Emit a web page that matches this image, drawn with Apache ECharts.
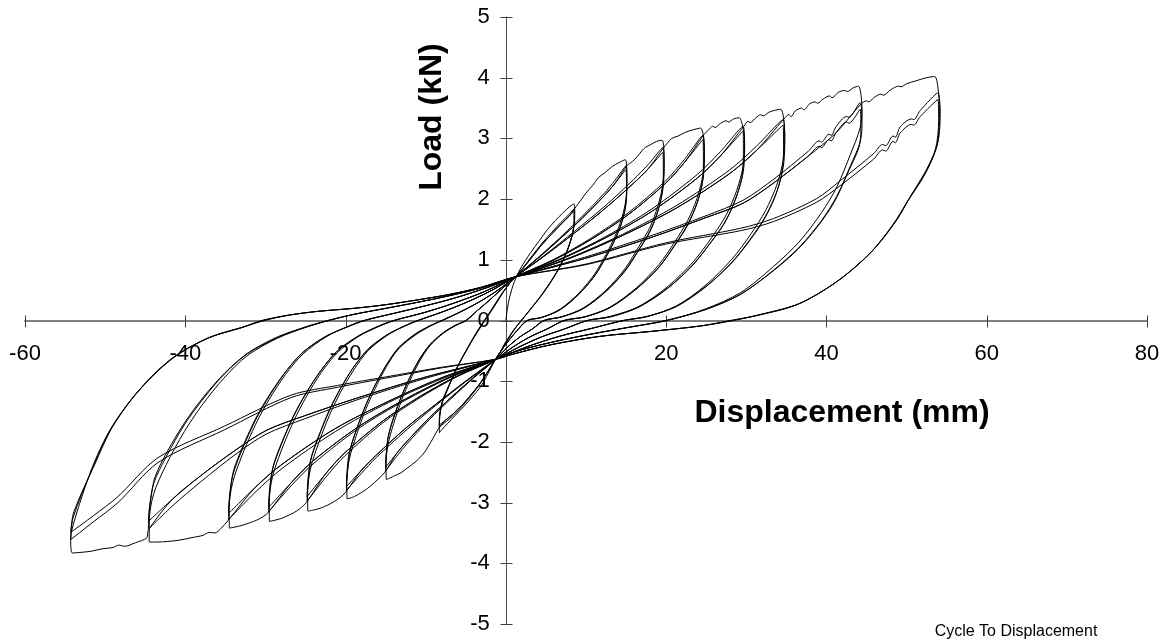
<!DOCTYPE html>
<html>
<head>
<meta charset="utf-8">
<script src="https://cdn.jsdelivr.net/npm/echarts@6/dist/echarts.min.js"></script>
<style>
  html, body { margin: 0; padding: 0; background: #fff; }
  #chart { width: 1175px; height: 644px; }
</style>
</head>
<body>
<div id="chart"></div>
<script>
// Axis ticks (mm and kN)
const xTicks = [-60, -40, -20, 0, 20, 40, 60, 80];
const yTicks = [-5, -4, -3, -2, -1, 0, 1, 2, 3, 4, 5];

// Load path, one array per displacement stage (three cycles each), [displacement mm, load kN]
const stage1 = [
  [0,0],[0.3,0.28],[0.9,0.58],[1.8,0.85],[3.1,1.12],[4.2,1.32],[5.2,1.5],[6.2,1.65],[7.1,1.77],[8.0,1.88],[8.5,1.92],
  [8.6,1.72],[8.4,1.48],[7.8,1.2],[6.9,0.93],[5.8,0.68],[4.6,0.45],[3.4,0.24],[2.3,0.06],[1.2,-0.12],[0.1,-0.35],[-0.7,-0.52],[-1.3,-0.64],
  [-2.2,-0.87],[-3.1,-1.08],[-4.2,-1.26],[-5.2,-1.41],[-6.3,-1.56],[-7.3,-1.7],[-8.0,-1.8],[-8.3,-1.85],
  [-8.3,-1.62],[-8.0,-1.38],[-7.3,-1.15],[-6.4,-0.86],[-5.4,-0.6],[-4.4,-0.36],[-3.5,-0.16],[-2.5,0.04],[-1.5,0.24],[-0.4,0.46],[0.4,0.6],[1.2,0.72],
  [2.2,0.88],[3.3,1.07],[4.5,1.27],[5.7,1.45],[6.9,1.62],[7.9,1.75],[8.5,1.84],
  [8.55,1.66],[8.3,1.42],[7.7,1.16],[6.8,0.9],[5.7,0.65],[4.5,0.42],[3.3,0.22],[2.2,0.04],[1.1,-0.14],[0.0,-0.36],[-0.7,-0.52],[-1.3,-0.64],
  [-2.3,-0.86],[-3.3,-1.06],[-4.4,-1.25],[-5.5,-1.42],[-6.6,-1.57],[-7.6,-1.68],[-8.3,-1.76],
  [-8.25,-1.56],[-7.9,-1.33],[-7.2,-1.1],[-6.3,-0.83],[-5.3,-0.58],[-4.3,-0.35],[-3.4,-0.15],[-2.4,0.05],[-1.4,0.25],[-0.4,0.46],[0.4,0.6],[1.2,0.72],
  [2.2,0.87],[3.3,1.05],[4.5,1.25],[5.7,1.42],[6.9,1.59],[7.9,1.72],[8.5,1.8],
  [8.5,1.63],[8.25,1.4],[7.6,1.14],[6.7,0.88],[5.6,0.64],[4.4,0.41],[3.2,0.21],[2.1,0.03],[1.0,-0.15],[-0.1,-0.37],[-0.7,-0.52],[-1.3,-0.64],
  [-2.3,-0.85],[-3.3,-1.05],[-4.4,-1.23],[-5.5,-1.4],[-6.6,-1.54],[-7.6,-1.65],[-8.3,-1.72],
  [-8.2,-1.53],[-7.85,-1.3],[-7.1,-1.07],[-6.2,-0.81],[-5.2,-0.56],[-4.2,-0.33],[-3.3,-0.14],[-2.3,0.06],[-1.3,0.26],[-0.3,0.47],[0.4,0.6],[1.2,0.72]
];

const stage2 = [
  [1.2,0.72],
  [2.2,0.87],[3.3,1.05],[4.5,1.25],[5.7,1.42],[6.9,1.59],[7.9,1.72],[8.6,1.85],[9.3,1.97],[10,2.1],[10.8,2.22],[11.6,2.36],[12.4,2.44],[13.3,2.54],[14.1,2.6],[14.9,2.65],
  [15.1,2.33],[15.0,2.01],[14.5,1.7],[13.6,1.38],[12.5,1.09],[11.1,0.77],[9.1,0.45],[6.8,0.19],[4.5,0.05],[2.7,0],
  [1.5,-0.15],[0.3,-0.34],[-0.6,-0.5],[-1.3,-0.64],
  [-2.3,-0.85],[-3.3,-1.05],[-4.4,-1.23],[-5.5,-1.4],[-6.6,-1.54],[-7.6,-1.65],[-8.4,-1.78],[-9.3,-1.99],[-10.2,-2.18],[-11.2,-2.32],[-12.3,-2.43],[-13.1,-2.51],[-13.9,-2.56],[-14.9,-2.62],
  [-14.95,-2.36],[-14.7,-2.04],[-14,-1.7],[-13,-1.31],[-12,-1.0],[-10.8,-0.68],[-9.5,-0.42],[-7.8,-0.21],[-6.2,-0.08],[-5,0],
  [-3.5,0.17],[-2,0.34],[-0.5,0.52],[1.2,0.72],
  [3.96,1.03],[6.72,1.36],[9.48,1.71],[12.24,2.09],[13.62,2.31],[15,2.55],
  [15.1,2.24],[15.0,1.94],[14.5,1.63],[13.6,1.33],[12.5,1.05],[11.1,0.74],[9.1,0.43],[6.8,0.18],[4.5,0.05],[2.7,0],
  [1.5,-0.15],[0.3,-0.34],[-0.6,-0.5],[-1.3,-0.64],
  [-4.04,-0.95],[-6.78,-1.28],[-9.52,-1.63],[-12.26,-2.02],[-13.63,-2.24],[-15,-2.48],
  [-14.95,-2.23],[-14.7,-1.93],[-14,-1.61],[-13,-1.24],[-12,-0.94],[-10.8,-0.64],[-9.5,-0.4],[-7.8,-0.2],[-6.2,-0.07],[-5,0],
  [-3.5,0.17],[-2,0.34],[-0.5,0.52],[1.2,0.72],
  [3.96,1.02],[6.72,1.34],[9.48,1.68],[12.24,2.05],[13.62,2.26],[15,2.49],
  [15.05,2.19],[14.95,1.89],[14.4,1.59],[13.5,1.3],[12.4,1.02],[11.0,0.72],[9.0,0.42],[6.7,0.17],[4.4,0.05],[2.6,0],
  [1.5,-0.15],[0.3,-0.34],[-0.6,-0.5],[-1.3,-0.64],
  [-4.04,-0.94],[-6.78,-1.26],[-9.52,-1.6],[-12.26,-1.98],[-13.63,-2.19],[-15,-2.42],
  [-14.9,-2.18],[-14.65,-1.89],[-13.95,-1.57],[-12.9,-1.21],[-11.9,-0.92],[-10.7,-0.63],[-9.4,-0.39],[-7.7,-0.19],[-6.1,-0.07],[-4.9,0],
  [-3.5,0.17],[-2,0.34],[-0.5,0.52],[1.2,0.72]
];

const stage3 = [
  [1.2,0.72],
  [3.96,1.02],[6.72,1.34],[9.48,1.68],[12.24,2.05],[13.62,2.26],[15.1,2.55],[15.8,2.62],[16.4,2.7],[17.0,2.8],[17.4,2.85],[18.1,2.9],[18.8,2.95],[19.5,2.97],
  [19.75,2.61],[19.6,2.26],[19.0,1.9],[18.0,1.54],[16.6,1.22],[14.9,0.86],[12.5,0.5],[9.7,0.21],[7.0,0.06],[4.8,0],
  [3.3,-0.14],[1.75,-0.27],[0.2,-0.44],[-1.3,-0.64],
  [-4.04,-0.94],[-6.78,-1.26],[-9.52,-1.6],[-12.26,-1.98],[-13.63,-2.19],[-15.1,-2.5],[-16.4,-2.67],[-17.3,-2.77],[-18.1,-2.84],[-18.9,-2.9],[-19.8,-2.94],
  [-19.84,-2.65],[-19.54,-2.29],[-18.7,-1.91],[-17.5,-1.47],[-16.3,-1.12],[-14.9,-0.76],[-13.4,-0.47],[-11.3,-0.24],[-9.4,-0.09],[-8,0],
  [-5.7,0.14],[-3.4,0.3],[-1.1,0.49],[1.2,0.72],
  [4.88,1.08],[8.56,1.47],[12.24,1.87],[15.92,2.32],[17.76,2.57],[19.6,2.85],
  [19.75,2.51],[19.6,2.17],[19.0,1.82],[18.0,1.48],[16.6,1.17],[14.9,0.83],[12.5,0.48],[9.7,0.2],[7.0,0.06],[4.8,0],
  [3.3,-0.14],[1.75,-0.27],[0.2,-0.44],[-1.3,-0.64],
  [-5.02,-1.01],[-8.74,-1.4],[-12.46,-1.81],[-16.18,-2.26],[-18.04,-2.52],[-19.9,-2.8],
  [-19.84,-2.52],[-19.54,-2.18],[-18.7,-1.82],[-17.5,-1.4],[-16.3,-1.06],[-14.9,-0.73],[-13.4,-0.45],[-11.3,-0.22],[-9.4,-0.08],[-8,0],
  [-5.7,0.14],[-3.4,0.3],[-1.1,0.49],[1.2,0.72],
  [4.88,1.07],[8.56,1.44],[12.24,1.83],[15.92,2.26],[17.76,2.5],[19.6,2.77],
  [19.65,2.44],[19.5,2.1],[18.9,1.77],[17.9,1.44],[16.5,1.14],[14.8,0.8],[12.4,0.47],[9.6,0.19],[6.9,0.06],[4.7,0],
  [3.3,-0.14],[1.75,-0.27],[0.2,-0.44],[-1.3,-0.64],
  [-5.02,-1.0],[-8.74,-1.38],[-12.46,-1.77],[-16.18,-2.22],[-18.04,-2.47],[-19.9,-2.74],
  [-19.74,-2.47],[-19.44,-2.14],[-18.6,-1.78],[-17.4,-1.37],[-16.2,-1.04],[-14.8,-0.71],[-13.3,-0.44],[-11.2,-0.22],[-9.3,-0.08],[-7.9,0],
  [-5.7,0.14],[-3.4,0.3],[-1.1,0.49],[1.2,0.72]
];

const stage4 = [
  [1.2,0.72],
  [4.88,1.07],[8.56,1.44],[12.24,1.83],[15.92,2.26],[17.76,2.5],[19.7,2.85],[20.2,2.93],[20.7,3.0],[21.5,3.04],[22.4,3.1],[23.3,3.14],[24.3,3.17],
  [24.77,2.79],[24.6,2.41],[23.9,2.03],[22.7,1.65],[21.1,1.3],[19.1,0.92],[16.3,0.54],[13.0,0.22],[9.9,0.06],[7.3,0],
  [5.15,-0.14],[3.0,-0.27],[0.85,-0.44],[-1.3,-0.64],
  [-5.02,-1.0],[-8.74,-1.38],[-12.46,-1.77],[-16.18,-2.22],[-18.04,-2.47],[-20.0,-2.83],[-20.7,-2.92],[-21.4,-2.98],[-22.2,-3.04],[-23.1,-3.09],[-23.9,-3.12],[-24.7,-3.14],
  [-24.73,-2.83],[-24.39,-2.45],[-23.42,-2.04],[-22.04,-1.57],[-20.66,-1.19],[-19.0,-0.82],[-17.21,-0.5],[-14.86,-0.25],[-12.66,-0.09],[-11,0],
  [-7.95,0.14],[-4.9,0.3],[-1.85,0.49],[1.2,0.72],
  [5.88,1.0],[10.56,1.35],[15.24,1.77],[19.92,2.3],[22.26,2.65],[24.6,3.05],
  [24.77,2.68],[24.6,2.32],[23.9,1.95],[22.7,1.59],[21.1,1.25],[19.1,0.88],[16.3,0.52],[13.0,0.21],[9.9,0.06],[7.3,0],
  [5.15,-0.14],[3.0,-0.27],[0.85,-0.44],[-1.3,-0.64],
  [-6.0,-0.92],[-10.7,-1.27],[-15.4,-1.69],[-20.1,-2.23],[-22.45,-2.58],[-24.8,-2.98],
  [-24.73,-2.68],[-24.39,-2.32],[-23.42,-1.94],[-22.04,-1.49],[-20.66,-1.13],[-19.0,-0.77],[-17.21,-0.48],[-14.86,-0.24],[-12.66,-0.09],[-11,0],
  [-7.95,0.14],[-4.9,0.3],[-1.85,0.49],[1.2,0.72],
  [5.88,0.99],[10.56,1.33],[15.24,1.74],[19.92,2.26],[22.26,2.6],[24.6,2.98],
  [24.65,2.62],[24.5,2.26],[23.8,1.91],[22.6,1.55],[21.0,1.22],[19.0,0.86],[16.2,0.51],[12.9,0.21],[9.8,0.06],[7.2,0],
  [5.15,-0.14],[3.0,-0.27],[0.85,-0.44],[-1.3,-0.64],
  [-6.0,-0.91],[-10.7,-1.25],[-15.4,-1.66],[-20.1,-2.18],[-22.45,-2.52],[-24.8,-2.9],
  [-24.63,-2.61],[-24.29,-2.26],[-23.32,-1.89],[-21.94,-1.45],[-20.56,-1.1],[-18.9,-0.75],[-17.11,-0.46],[-14.76,-0.23],[-12.56,-0.09],[-10.9,0],
  [-7.95,0.14],[-4.9,0.3],[-1.85,0.49],[1.2,0.72]
];

const stage5 = [
  [1.2,0.72],
  [5.88,0.99],[10.56,1.33],[15.24,1.74],[19.92,2.26],[22.26,2.6],[24.7,3.06],[25.3,3.14],[25.8,3.2],[26.1,3.18],[26.8,3.25],[27.5,3.29],[27.8,3.27],[28.4,3.32],[29.1,3.34],
  [29.79,2.94],[29.6,2.54],[28.8,2.14],[27.5,1.74],[25.7,1.37],[23.4,0.97],[20.3,0.57],[16.6,0.23],[13.1,0.07],[10.2,0],
  [7.3,-0.14],[4.45,-0.27],[1.6,-0.44],[-1.3,-0.64],
  [-6.0,-0.91],[-10.7,-1.25],[-15.4,-1.66],[-20.1,-2.18],[-22.45,-2.52],[-24.9,-3.0],[-25.7,-3.1],[-26.5,-3.17],[-27.3,-3.22],[-28.0,-3.26],[-28.8,-3.29],[-29.5,-3.31],
  [-29.52,-2.98],[-29.13,-2.58],[-28.04,-2.15],[-26.48,-1.66],[-24.92,-1.26],[-23.05,-0.86],[-21.02,-0.53],[-18.37,-0.26],[-15.87,-0.1],[-14,0],
  [-10.2,0.13],[-6.4,0.29],[-2.6,0.48],[1.2,0.72],
  [6.88,1.02],[12.56,1.39],[18.24,1.84],[23.92,2.41],[26.76,2.78],[29.6,3.2],
  [29.79,2.82],[29.6,2.43],[28.8,2.05],[27.5,1.66],[25.7,1.31],[23.4,0.93],[20.3,0.54],[16.6,0.22],[13.1,0.06],[10.2,0],
  [7.3,-0.14],[4.45,-0.27],[1.6,-0.44],[-1.3,-0.64],
  [-6.96,-0.94],[-12.62,-1.32],[-18.28,-1.77],[-23.94,-2.35],[-26.77,-2.72],[-29.6,-3.15],
  [-29.52,-2.84],[-29.13,-2.46],[-28.04,-2.05],[-26.48,-1.58],[-24.92,-1.2],[-23.05,-0.82],[-21.02,-0.5],[-18.37,-0.25],[-15.87,-0.09],[-14,0],
  [-10.2,0.13],[-6.4,0.29],[-2.6,0.48],[1.2,0.72],
  [6.88,1.01],[12.56,1.37],[18.24,1.8],[23.92,2.35],[26.76,2.71],[29.6,3.12],
  [29.64,2.75],[29.45,2.37],[28.65,2.0],[27.35,1.62],[25.55,1.28],[23.25,0.9],[20.15,0.53],[16.45,0.22],[12.95,0.06],[10.1,0],
  [7.3,-0.14],[4.45,-0.27],[1.6,-0.44],[-1.3,-0.64],
  [-6.96,-0.93],[-12.62,-1.3],[-18.28,-1.74],[-23.94,-2.3],[-26.77,-2.67],[-29.6,-3.08],
  [-29.42,-2.77],[-29.03,-2.4],[-27.94,-2.0],[-26.38,-1.54],[-24.82,-1.17],[-22.95,-0.8],[-20.92,-0.49],[-18.27,-0.25],[-15.77,-0.09],[-13.9,0],
  [-10.2,0.13],[-6.4,0.29],[-2.6,0.48],[1.2,0.72]
];

const stage6 = [
  [1.2,0.72],
  [6.88,1.01],[12.56,1.37],[18.24,1.8],[23.92,2.35],[26.76,2.71],[29.7,3.2],[30.2,3.28],[30.5,3.26],[31.2,3.34],[31.8,3.39],[32.1,3.37],[32.8,3.43],[33.5,3.46],[34.3,3.48],
  [34.8,3.06],[34.6,2.64],[33.8,2.23],[32.4,1.81],[30.6,1.43],[28.2,1.01],[25.0,0.59],[21.3,0.24],[17.7,0.07],[14.7,0],
  [10.7,-0.13],[6.7,-0.26],[2.7,-0.43],[-1.3,-0.64],
  [-6.96,-0.93],[-12.62,-1.3],[-18.28,-1.74],[-23.94,-2.3],[-26.77,-2.67],[-29.7,-3.17],[-30.4,-3.24],[-31.1,-3.29],[-31.9,-3.33],[-32.8,-3.37],[-33.7,-3.4],[-34.5,-3.42],
  [-34.52,-3.08],[-34.09,-2.67],[-32.91,-2.22],[-31.22,-1.71],[-29.53,-1.3],[-27.5,-0.89],[-25.3,-0.55],[-22.43,-0.27],[-19.73,-0.1],[-17.7,0],
  [-13.9,0.12],[-10.1,0.24],[-6.4,0.37],[-2.6,0.53],[1.2,0.72],
  [7.88,1.03],[14.56,1.42],[21.24,1.89],[27.92,2.48],[31.26,2.87],[34.6,3.31],
  [34.8,2.91],[34.6,2.52],[33.8,2.12],[32.4,1.72],[30.6,1.36],[28.2,0.96],[25.0,0.56],[21.3,0.23],[17.7,0.07],[14.7,0],
  [10.7,-0.13],[6.7,-0.26],[2.7,-0.43],[-1.3,-0.64],
  [-7.96,-0.96],[-14.62,-1.35],[-21.28,-1.83],[-27.94,-2.44],[-31.27,-2.83],[-34.6,-3.28],
  [-34.52,-2.95],[-34.09,-2.56],[-32.91,-2.13],[-31.22,-1.64],[-29.53,-1.25],[-27.5,-0.85],[-25.3,-0.52],[-22.43,-0.26],[-19.73,-0.1],[-17.7,0],
  [-13.9,0.12],[-10.1,0.24],[-6.4,0.37],[-2.6,0.53],[1.2,0.72],
  [7.88,1.02],[14.56,1.4],[21.24,1.85],[27.92,2.42],[31.26,2.8],[34.6,3.22],
  [34.65,2.83],[34.45,2.45],[33.65,2.06],[32.25,1.67],[30.45,1.32],[28.05,0.93],[24.85,0.55],[21.15,0.23],[17.55,0.06],[14.6,0],
  [10.7,-0.13],[6.7,-0.26],[2.7,-0.43],[-1.3,-0.64],
  [-7.96,-0.94],[-14.62,-1.33],[-21.28,-1.78],[-27.94,-2.37],[-31.27,-2.75],[-34.6,-3.18],
  [-34.42,-2.86],[-33.99,-2.48],[-32.81,-2.07],[-31.12,-1.59],[-29.43,-1.21],[-27.4,-0.83],[-25.2,-0.51],[-22.33,-0.25],[-19.63,-0.1],[-17.6,0],
  [-13.9,0.12],[-10.1,0.24],[-6.4,0.37],[-2.6,0.53],[1.2,0.72]
];

const stage7 = [
  [1.2,0.72],
  [7.88,1.02],[14.56,1.4],[21.24,1.85],[27.92,2.42],[31.26,2.8],[34.7,3.32],[35.3,3.39],[35.6,3.36],[36.1,3.45],[36.9,3.5],[37.2,3.47],[37.9,3.57],[38.6,3.6],[38.9,3.58],[39.6,3.65],[40.4,3.7],[40.7,3.67],[41.5,3.76],[42.3,3.79],[42.6,3.77],[43.3,3.83],[44.0,3.86],
  [44.44,3.47],[44.2,3.17],[43.0,2.74],[41.3,2.2],[39.4,1.78],[36.7,1.31],[33.4,0.89],[29.3,0.46],[24.9,0.19],[20.1,0],
  [15.0,-0.12],[10.0,-0.24],[5.0,-0.38],[1.0,-0.52],[-1.3,-0.64],
  [-7.96,-0.94],[-14.62,-1.33],[-21.28,-1.78],[-27.94,-2.37],[-31.27,-2.75],[-34.7,-3.3],[-35.5,-3.42],[-36.3,-3.5],[-37.0,-3.49],[-37.8,-3.54],[-39.3,-3.58],[-40.8,-3.62],[-42.2,-3.64],[-43.5,-3.65],[-44.5,-3.65],
  [-44.49,-3.29],[-43.93,-2.85],[-42.36,-2.37],[-40.12,-1.83],[-37.88,-1.39],[-35.19,-0.95],[-32.28,-0.58],[-28.47,-0.29],[-24.89,-0.11],[-22.2,0],
  [-19,0.1],[-15,0.2],[-11,0.3],[-7,0.41],[-3,0.54],[1.2,0.72],
  [9.8,1.04],[18.4,1.41],[24.85,1.72],[29.58,1.98],[33.45,2.33],[37.75,2.79],[39.1,2.96],[39.4,2.94],[40.3,3.07],[40.6,3.05],[41.19,3.19],[42.5,3.36],[42.8,3.35],[44.2,3.59],
  [44.44,3.23],[44.2,2.94],[43.0,2.55],[41.3,2.05],[39.4,1.65],[36.7,1.22],[33.4,0.83],[29.3,0.43],[24.9,0.18],[20.1,0],
  [15.0,-0.12],[10.0,-0.24],[5.0,-0.38],[1.0,-0.52],[-1.3,-0.64],
  [-9.96,-0.95],[-18.62,-1.31],[-25.12,-1.62],[-29.88,-1.87],[-33.78,-2.21],[-38.1,-2.66],[-41.57,-3.05],[-44.6,-3.44],
  [-44.49,-3.1],[-43.93,-2.68],[-42.36,-2.24],[-40.12,-1.72],[-37.88,-1.31],[-35.19,-0.89],[-32.28,-0.55],[-28.47,-0.28],[-24.89,-0.1],[-22.2,0],
  [-19,0.1],[-15,0.2],[-11,0.3],[-7,0.41],[-3,0.54],[1.2,0.72],
  [9.8,1.02],[18.4,1.38],[24.85,1.69],[29.58,1.93],[33.45,2.27],[37.75,2.71],[39.1,2.87],[39.4,2.85],[40.3,2.98],[40.6,2.96],[41.19,3.09],[42.5,3.27],[42.8,3.25],[44.2,3.48],
  [44.3,3.13],[44.05,2.85],[42.8,2.47],[41.1,1.98],[39.2,1.6],[36.5,1.18],[33.2,0.8],[29.1,0.42],[24.7,0.17],[19.9,0],
  [15.0,-0.12],[10.0,-0.24],[5.0,-0.38],[1.0,-0.52],[-1.3,-0.64],
  [-9.96,-0.93],[-18.62,-1.28],[-25.12,-1.57],[-29.88,-1.81],[-33.78,-2.14],[-38.1,-2.56],[-41.57,-2.94],[-44.6,-3.31],
  [-44.34,-2.98],[-43.78,-2.58],[-42.21,-2.15],[-39.97,-1.66],[-37.73,-1.26],[-35.04,-0.86],[-32.13,-0.53],[-28.32,-0.26],[-24.74,-0.1],[-22.05,0],
  [-19,0.1],[-15,0.2],[-11,0.3],[-7,0.41],[-3,0.54],[1.2,0.72]
];

const stage8 = [
  [1.2,0.72],
  [9.8,1.02],[18.4,1.38],[24.85,1.69],[29.58,1.93],[33.45,2.27],[37.75,2.71],[41.19,3.09],[44.2,3.55],[45.0,3.62],[45.3,3.6],[45.9,3.67],[46.8,3.73],[47.1,3.71],[48.0,3.8],[49.0,3.86],[49.3,3.85],[50.0,3.9],[51.2,3.95],[52.5,4.0],[53.5,4.02],
  [54.0,3.75],[54.2,3.45],[53.9,2.93],[52.5,2.49],[50.5,2.05],[48.8,1.66],[45.9,1.17],[41.7,0.68],[36.8,0.29],[31.8,0.1],[28.4,0],
  [24.3,-0.09],[18.1,-0.18],[11.8,-0.26],[5.6,-0.4],[1.0,-0.55],[-1.3,-0.64],
  [-9.96,-0.93],[-18.62,-1.28],[-25.12,-1.57],[-29.88,-1.81],[-33.78,-2.14],[-38.1,-2.56],[-41.57,-2.94],[-44.6,-3.45],[-44.8,-3.58],[-46.2,-3.66],[-47.6,-3.72],[-48.3,-3.7],[-49.0,-3.74],[-50.3,-3.76],[-51.7,-3.8],[-53.0,-3.82],[-54.1,-3.83],
  [-54.3,-3.6],[-53.8,-3.28],[-51.7,-2.45],[-49.6,-1.85],[-47.1,-1.36],[-44.2,-0.92],[-41.3,-0.59],[-37.2,-0.29],[-33,-0.12],[-30.5,0],
  [-27,0.09],[-23.5,0.15],[-19,0.2],[-15,0.26],[-11,0.34],[-7,0.43],[-3,0.55],[1.2,0.72],
  [10,0.93],[20,1.28],[29.3,1.52],[33.4,1.68],[38.8,2.01],[41.7,2.3],[45.9,2.75],[47.0,2.9],[47.4,2.88],[48.3,3.04],[48.6,3.02],[49.2,3.19],[50.6,3.32],[50.9,3.31],[51.7,3.46],[53.9,3.75],
  [54.1,3.4],[53.8,2.88],[52.4,2.44],[50.3,2.0],[48.5,1.61],[45.6,1.13],[41.4,0.65],[36.5,0.27],[31.5,0.09],[28.2,0],
  [24.3,-0.09],[18.1,-0.18],[11.8,-0.26],[5.6,-0.4],[1.0,-0.55],[-1.3,-0.64],
  [-8,-0.78],[-15,-0.95],[-21,-1.1],[-26.8,-1.27],[-35.1,-1.8],[-43.4,-2.34],[-48.4,-3.0],[-51.5,-3.32],[-54.3,-3.61],
  [-54.0,-3.25],[-51.5,-2.41],[-49.4,-1.81],[-46.9,-1.33],[-44.0,-0.9],[-41.1,-0.57],[-37.0,-0.28],[-32.8,-0.11],[-30.3,0],
  [-27,0.09],[-23.5,0.15],[-19,0.2],[-15,0.26],[-11,0.34],[-7,0.43],[-3,0.55],[1.2,0.72],
  [10,0.92],[20,1.26],[29.3,1.48],[33.4,1.63],[38.8,1.95],[41.7,2.22],[45.9,2.66],[47.0,2.81],[47.4,2.79],[48.3,2.95],[48.6,2.93],[49.2,3.09],[50.6,3.23],[50.9,3.22],[51.7,3.36],[53.9,3.64],
  [54.0,3.3],[53.6,2.82],[52.2,2.39],[50.1,1.96],[48.3,1.58],[45.4,1.1],[41.2,0.63],[36.3,0.26],[31.3,0.08],[28.0,0],
  [24.3,-0.09],[18.1,-0.18],[11.8,-0.26],[5.6,-0.4],[1.0,-0.55],[-1.3,-0.64],
  [-8,-0.77],[-15,-0.93],[-21,-1.07],[-26.8,-1.23],[-35.1,-1.74],[-43.4,-2.26],[-48.4,-2.9],[-51.5,-3.22],[-54.3,-3.49],
  [-53.9,-3.15],[-51.3,-2.37],[-49.2,-1.78],[-46.7,-1.3],[-43.8,-0.88],[-40.9,-0.56],[-36.8,-0.27],[-32.6,-0.1],[-30.1,0],
  [-27,0.09],[-23.5,0.15],[-19,0.2],[-15,0.26],[-11,0.34],[-7,0.43],[-3,0.55],[1.2,0.72]
];

const stages = [stage1, stage2, stage3, stage4, stage5, stage6, stage7, stage8];

const FONT = '"Liberation Sans", Arial, sans-serif';
const chart = echarts.init(document.getElementById('chart'), null, { renderer: 'canvas' });

const xMin = xTicks[0], xMax = xTicks[xTicks.length - 1], xStep = xTicks[1] - xTicks[0];
const yMin = yTicks[0], yMax = yTicks[yTicks.length - 1], yStep = yTicks[1] - yTicks[0];

// Tick marks crossing each axis line, plus their labels; placed through the axis scales.
const axisMarks = xTicks.map(v => [v, 0, 0]).concat(yTicks.map(v => [0, v, 1]));
const TICK = 6;
function renderAxisMark(params, api) {
  const dim = api.value(2);
  const p = api.coord([api.value(0), api.value(1)]);
  const px = Math.round(p[0]) + 0.5, py = Math.round(p[1]) + 0.5;
  const children = [];
  if (dim === 0) {
    const v = api.value(0);
    children.push({ type: 'line', shape: { x1: px, y1: py - TICK, x2: px, y2: py + TICK },
      style: { stroke: '#404040', lineWidth: 1 } });
    if (v !== 0) {
      children.push({ type: 'text', x: p[0], y: p[1] + 33,
        style: { text: String(v), font: '22px ' + FONT, fill: '#000',
          align: 'center', verticalAlign: 'middle', textAlign: 'center', textVerticalAlign: 'middle' } });
    }
  } else {
    const v = api.value(1);
    children.push({ type: 'line', shape: { x1: px - TICK, y1: py, x2: px + TICK, y2: py },
      style: { stroke: '#404040', lineWidth: 1 } });
    children.push({ type: 'text', x: p[0] - 16, y: p[1],
      style: { text: String(v), font: '22px ' + FONT, fill: '#000',
        align: 'right', verticalAlign: 'middle', textAlign: 'right', textVerticalAlign: 'middle' } });
  }
  return { type: 'group', children: children };
}

chart.setOption({
  animation: false,
  backgroundColor: '#ffffff',
  grid: { left: 25, right: 28, top: 17, bottom: 20, containLabel: false, outerBoundsMode: 'none' },
  xAxis: {
    type: 'value', min: xMin, max: xMax, interval: xStep,
    axisLine: { show: true, onZero: true, lineStyle: { color: '#808080', width: 2 } },
    axisTick: { show: false }, axisLabel: { show: false }, splitLine: { show: false }
  },
  yAxis: {
    type: 'value', min: yMin, max: yMax, interval: yStep,
    axisLine: { show: true, onZero: true, lineStyle: { color: '#505050', width: 1 } },
    axisTick: { show: false }, axisLabel: { show: false }, splitLine: { show: false }
  },
  graphic: [
    { type: 'text', x: 432, y: 117, rotation: Math.PI / 2, z: 10,
      style: { text: 'Load (kN)', font: 'bold 32px ' + FONT, fill: '#000', textAlign: 'center', textVerticalAlign: 'middle' } },
    { type: 'text', x: 842, y: 413, z: 10,
      style: { text: 'Displacement (mm)', font: 'bold 32px ' + FONT, fill: '#000', textAlign: 'center', textVerticalAlign: 'middle' } },
    { type: 'text', x: 1016, y: 632, z: 10,
      style: { text: 'Cycle To Displacement', font: '16px ' + FONT, fill: '#000', textAlign: 'center', textVerticalAlign: 'middle' } }
  ],
  series: [{
    name: 'axis marks',
    type: 'custom',
    data: axisMarks,
    renderItem: renderAxisMark,
    clip: false,
    silent: true,
    z: 1
  }].concat(stages.map((pts, i) => ({
    name: 'Stage ' + (i + 1),
    type: 'line',
    data: pts,
    showSymbol: false,
    smooth: 0.3,
    lineStyle: { color: '#000', width: 1 },
    z: 3
  })))
});
</script>
</body>
</html>
